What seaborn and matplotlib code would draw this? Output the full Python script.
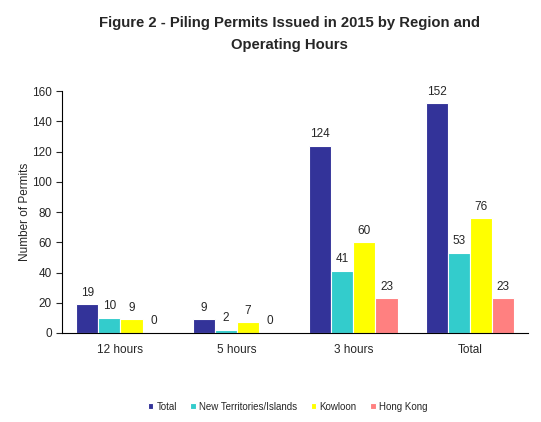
import numpy as np
import pandas as pd
import seaborn as sns
import matplotlib.pyplot as plt

hours = ['12 hours', '5 hours', '3 hours', 'Total']
regions = ['Total', 'New Territories/Islands', 'Kowloon', 'Hong Kong']
total = [19, 9, 124, 152]
new_territories = [10, 2, 41, 53]
kowloon = [9, 7, 60, 76]
hong_kong = [0, 0, 23, 23]
colors = ['#333399', '#33CCCC', '#FFFF00', '#FF8080']

df = pd.DataFrame({
    'hours': hours * 4,
    'region': [r for r in regions for _ in hours],
    'permits': total + new_territories + kowloon + hong_kong,
})

sns.set_style('white')
plt.rcParams['font.family'] = ['Liberation Sans', 'DejaVu Sans']

fig = plt.figure(figsize=(5.41, 4.22), dpi=100)
ax = fig.add_axes([0.115, 0.211, 0.861, 0.573])

sns.barplot(data=df, x='hours', y='permits', hue='region', order=hours,
            hue_order=regions, palette=colors, width=0.76, saturation=1,
            edgecolor='white', linewidth=0.8, ax=ax)

for cont in ax.containers:
    ax.bar_label(cont, fmt='%d', padding=4, fontsize=8.5)

ax.set_ylim(0, 160)
ax.set_yticks(range(0, 161, 20))
ax.set_xlim(-0.5, 3.5)
ax.set_xlabel('')
ax.set_ylabel('Number of Permits', fontsize=8.5, labelpad=1)
ax.tick_params(axis='y', labelsize=8.5, length=4, width=0.8, direction='out', left=True)
ax.tick_params(axis='x', labelsize=8.5, length=0, pad=8)
sns.despine(ax=ax)
ax.spines['left'].set_color('black')
ax.spines['bottom'].set_color('black')
ax.spines['left'].set_linewidth(0.8)
ax.spines['bottom'].set_linewidth(0.8)

ax.legend(loc='center', bbox_to_anchor=(0.484, -0.305), ncol=4, frameon=False,
          fontsize=7, handlelength=0.55, handleheight=0.55, handletextpad=0.35,
          columnspacing=1.4)

fig.suptitle('Figure 2 - Piling Permits Issued in 2015 by Region and\nOperating Hours',
             x=0.535, y=0.962, va='top', fontsize=10.7, fontweight='bold',
             linespacing=1.7)

fig.savefig('out.png', dpi=100)
